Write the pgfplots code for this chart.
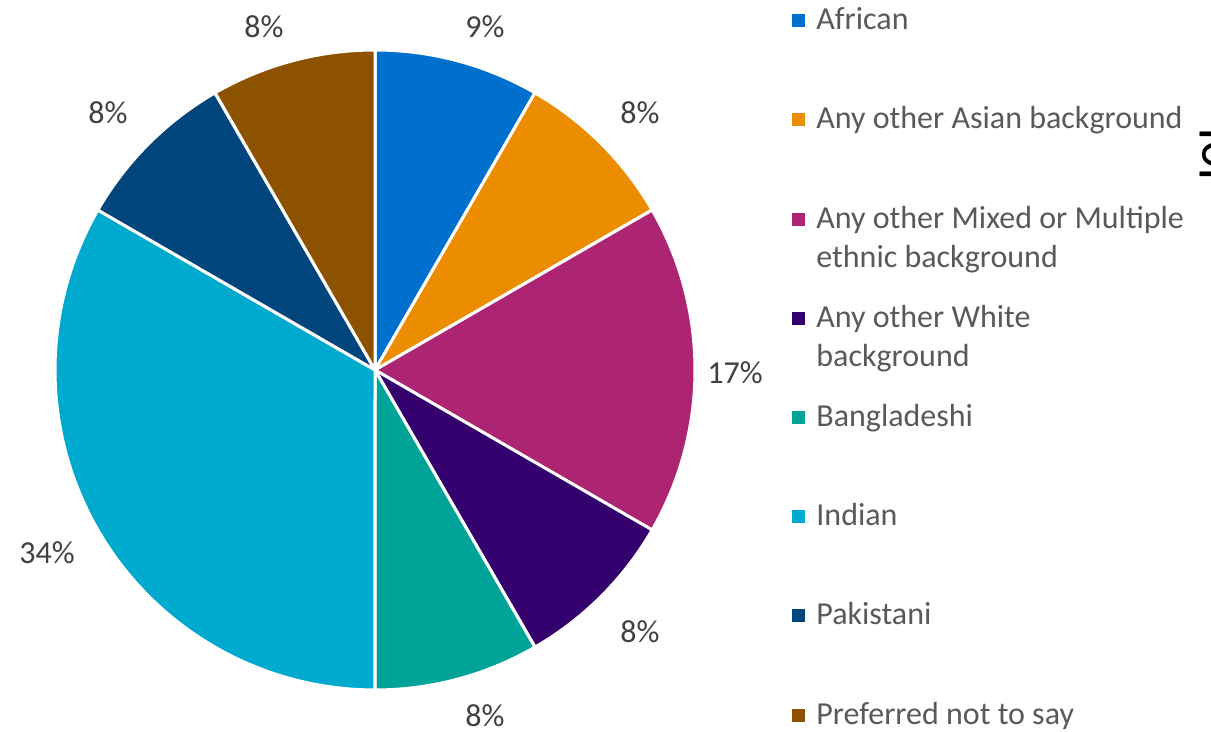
\documentclass[border=0pt]{standalone}
\usepackage{pgfplots}
\pgfplotsset{compat=1.18}
\usepackage{fontspec}
\setmainfont{Carlito}
\definecolor{cAfr}{RGB}{0,112,206}
\definecolor{cAsi}{RGB}{236,140,0}
\definecolor{cMix}{RGB}{173,36,114}
\definecolor{cWhi}{RGB}{51,0,110}
\definecolor{cBan}{RGB}{0,163,152}
\definecolor{cInd}{RGB}{0,170,206}
\definecolor{cPak}{RGB}{0,70,124}
\definecolor{cPre}{RGB}{140,82,0}
\definecolor{lbl}{RGB}{64,64,64}
\definecolor{leg}{RGB}{89,89,89}
% slice: #1 cumulative start (%), #2 share (%), #3 colour
\newcommand{\slice}[3]{%
  \pgfmathsetmacro{\sa}{90-3.6*#1}%
  \pgfmathsetmacro{\sb}{90-3.6*(#1+#2)}%
  \addplot[fill=#3, draw=white, line width=1.5pt, line join=round, domain=\sb:\sa, samples=90]
    ({375+320*cos(x)},{362+320*sin(x)}) -- (375,362) -- cycle;
}
\newcommand{\legitem}[4]{% colour, baseline y (image px), line1, line2
  \fill[#1] (791.5,{732-#2+3}) rectangle (804.5,{732-#2+16});
  \node[anchor=base west, inner sep=0pt, text=leg, font=\fontsize{16}{19}\selectfont] at (816,{732-#2}) {#3};
  \node[anchor=base west, inner sep=0pt, text=leg, font=\fontsize{16}{19}\selectfont] at (816,{732-#2-38.5}) {#4};
}
\begin{document}
\begin{tikzpicture}
\begin{axis}[
  scale only axis, width=605.5pt, height=366pt,
  xmin=0, xmax=1211, ymin=0, ymax=732,
  hide axis, clip=false,
]
% shares in percent
\slice{0}{8.33}{cAfr}
\slice{8.33}{8.33}{cAsi}
\slice{16.67}{16.67}{cMix}
\slice{33.33}{8.33}{cWhi}
\slice{41.67}{8.33}{cBan}
\slice{50}{33.33}{cInd}
\slice{83.33}{8.33}{cPak}
\slice{91.67}{8.33}{cPre}
% data labels
\begin{scope}[every node/.style={text=lbl, font=\fontsize{16}{19}\selectfont, inner sep=0pt}]
\node at (485,{732-27}) {9\%};
\node at (640,{732-113}) {8\%};
\node at (735,{732-373}) {17\%};
\node at (640,{732-632}) {8\%};
\node at (485,{732-716}) {8\%};
\node at (47,{732-553}) {34\%};
\node at (108,{732-113}) {8\%};
\node at (264,{732-27}) {8\%};
\end{scope}
% legend
\legitem{cAfr}{30}{African}{}
\legitem{cAsi}{129}{Any other Asian background}{}
\legitem{cMix}{229}{Any other Mixed or Multiple}{ethnic background}
\legitem{cWhi}{328}{Any other White}{background}
\legitem{cBan}{427}{Bangladeshi}{}
\legitem{cInd}{526}{Indian}{}
\legitem{cPak}{625}{Pakistani}{}
\legitem{cPre}{725}{Preferred not to say}{}
% clipped text at the right edge (as in the reference)
\node[anchor=base west, rotate=90, inner sep=0pt, text=black, font=\fontsize{27}{30}\selectfont] at (1237,{732-181}) {l0l};
\end{axis}
\pgfresetboundingbox
\useasboundingbox (current axis.south west) rectangle (current axis.north east);
\end{tikzpicture}
\end{document}
